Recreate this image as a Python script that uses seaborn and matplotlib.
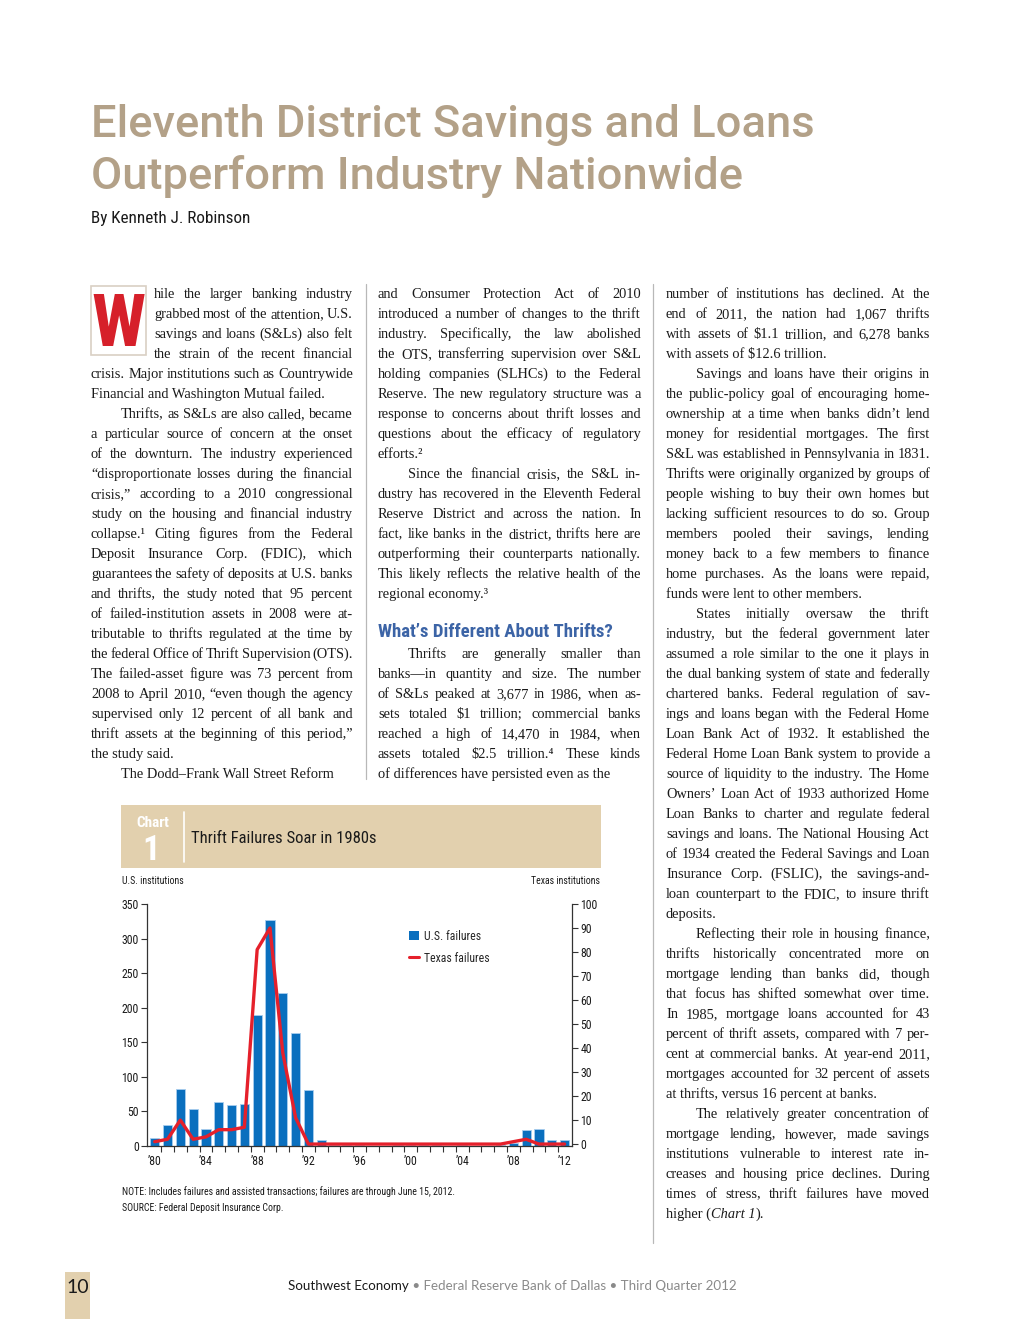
import numpy as np
import pandas as pd
import matplotlib
matplotlib.use("Agg")
import matplotlib.pyplot as plt
from matplotlib import font_manager
from matplotlib.patches import Rectangle, Patch
from matplotlib.lines import Line2D
import seaborn as sns

# ---- chart data ----
years = list(range(1980, 2013))
us_failures = [11, 31, 83, 53, 25, 63, 59, 61, 190, 327, 222, 163, 81, 9,
               2, 2, 1, 0, 0, 1, 1, 1, 1, 0, 1, 0, 0, 1, 5, 23, 25, 9, 8]
texas_failures = [1, 2, 10, 2, 3, 6, 6, 7, 81, 90, 38, 11, 0, 0,
                  0, 0, 0, 0, 0, 0, 0, 0, 0, 0, 0, 0, 0, 0, 1, 2, 0, 0, 0]
year_ticks = [0, 4, 8, 12, 16, 20, 24, 28, 32]
year_labels = ["’80", "’84", "’88", "’92", "’96", "’00", "’04", "’08", "’12"]
us_ticks = [0, 50, 100, 150, 200, 250, 300, 350]
tx_ticks = [0, 10, 20, 30, 40, 50, 60, 70, 80, 90, 100]

# ---- page text ----
headline = ["Eleventh District Savings and Loans", "Outperform Industry Nationwide"]
byline = "By Kenneth J. Robinson"

col1 = [
    (False, ["hile the larger banking industry",
             "grabbed most of the attention, U.S.",
             "savings and loans (S&Ls) also felt",
             "the strain of the recent financial",
             "crisis. Major institutions such as Countrywide",
             "Financial and Washington Mutual failed."]),
    (True, ["Thrifts, as S&Ls are also called, became",
            "a particular source of concern at the onset",
            "of the downturn. The industry experienced",
            "“disproportionate losses during the financial",
            "crisis,” according to a 2010 congressional",
            "study on the housing and financial industry",
            "collapse.¹ Citing figures from the Federal",
            "Deposit Insurance Corp. (FDIC), which",
            "guarantees the safety of deposits at U.S. banks",
            "and thrifts, the study noted that 95 percent",
            "of failed-institution assets in 2008 were at-",
            "tributable to thrifts regulated at the time by",
            "the federal Office of Thrift Supervision (OTS).",
            "The failed-asset figure was 73 percent from",
            "2008 to April 2010, “even though the agency",
            "supervised only 12 percent of all bank and",
            "thrift assets at the beginning of this period,”",
            "the study said."]),
    (True, ["The Dodd–Frank Wall Street Reform"]),
]
col2_top = [
    (False, ["and Consumer Protection Act of 2010",
             "introduced a number of changes to the thrift",
             "industry. Specifically, the law abolished",
             "the OTS, transferring supervision over S&L",
             "holding companies (SLHCs) to the Federal",
             "Reserve. The new regulatory structure was a",
             "response to concerns about thrift losses and",
             "questions about the efficacy of regulatory",
             "efforts.²"]),
    (True, ["Since the financial crisis, the S&L in-",
            "dustry has recovered in the Eleventh Federal",
            "Reserve District and across the nation. In",
            "fact, like banks in the district, thrifts here are",
            "outperforming their counterparts nationally.",
            "This likely reflects the relative health of the",
            "regional economy.³"]),
]
col2_heading = "What’s Different About Thrifts?"
col2_bottom = [
    (True, ["Thrifts are generally smaller than",
            "banks—in quantity and size. The number",
            "of S&Ls peaked at 3,677 in 1986, when as-",
            "sets totaled $1 trillion; commercial banks",
            "reached a high of 14,470 in 1984, when",
            "assets totaled $2.5 trillion.⁴ These kinds",
            "of differences have persisted even as the"]),
]
col3 = [
    (False, ["number of institutions has declined. At the",
             "end of 2011, the nation had 1,067 thrifts",
             "with assets of $1.1 trillion, and 6,278 banks",
             "with assets of $12.6 trillion."]),
    (True, ["Savings and loans have their origins in",
            "the public-policy goal of encouraging home-",
            "ownership at a time when banks didn’t lend",
            "money for residential mortgages. The first",
            "S&L was established in Pennsylvania in 1831.",
            "Thrifts were originally organized by groups of",
            "people wishing to buy their own homes but",
            "lacking sufficient resources to do so. Group",
            "members pooled their savings, lending",
            "money back to a few members to finance",
            "home purchases. As the loans were repaid,",
            "funds were lent to other members."]),
    (True, ["States initially oversaw the thrift",
            "industry, but the federal government later",
            "assumed a role similar to the one it plays in",
            "the dual banking system of state and federally",
            "chartered banks. Federal regulation of sav-",
            "ings and loans began with the Federal Home",
            "Loan Bank Act of 1932. It established the",
            "Federal Home Loan Bank system to provide a",
            "source of liquidity to the industry. The Home",
            "Owners’ Loan Act of 1933 authorized Home",
            "Loan Banks to charter and regulate federal",
            "savings and loans. The National Housing Act",
            "of 1934 created the Federal Savings and Loan",
            "Insurance Corp. (FSLIC), the savings-and-",
            "loan counterpart to the FDIC, to insure thrift",
            "deposits."]),
    (True, ["Reflecting their role in housing finance,",
            "thrifts historically concentrated more on",
            "mortgage lending than banks did, though",
            "that focus has shifted somewhat over time.",
            "In 1985, mortgage loans accounted for 43",
            "percent of thrift assets, compared with 7 per-",
            "cent at commercial banks. At year-end 2011,",
            "mortgages accounted for 32 percent of assets",
            "at thrifts, versus 16 percent at banks."]),
    (True, ["The relatively greater concentration of",
            "mortgage lending, however, made savings",
            "institutions vulnerable to interest rate in-",
            "creases and housing price declines. During",
            "times of stress, thrift failures have moved",
            "higher (*Chart 1*)."]),
]

# ---- colours ----
BLUE = "#0a6fbe"
RED = "#e5202b"
TAN = "#e2d0ae"
HEAD_TAN = "#b3a188"
HEAD_BLUE = "#3c64a6"
INK = "#1a1a1a"


def pick(*names):
    for n in names:
        try:
            font_manager.findfont(font_manager.FontProperties(family=n),
                                  fallback_to_default=False)
            return n
        except ValueError:
            pass
    return "DejaVu Sans"


NARROW = pick("Liberation Sans Narrow", "Roboto Condensed", "Liberation Sans")
SERIF = [pick("Liberation Serif", "DejaVu Serif"), "DejaVu Serif"]
HEAD = pick("Roboto", "Open Sans", "Liberation Sans")
FOOT = pick("Lato", "Open Sans", "Liberation Sans")

sns.set_style("white")
plt.rcParams["font.family"] = [NARROW, "DejaVu Sans"]

W, H = 1020, 1320
fig = plt.figure(figsize=(W / 100, H / 100), dpi=100)
renderer = fig.canvas.get_renderer()


def fx(x):
    return x / W


def fy(y):
    return 1 - y / H


def txt(x, y, s, **kw):
    kw.setdefault("va", "baseline")
    return fig.text(fx(x), fy(y), s, parse_math=False, **kw)


def measure(s, **kw):
    t = fig.text(0, 0, s, parse_math=False, **kw)
    w = t.get_window_extent(renderer).width
    t.remove()
    return w


# ---- headline ----
head_kw = dict(family=HEAD, weight="medium", color=HEAD_TAN)
head_size = 32 * 725 / measure(headline[0], fontsize=32, **head_kw)
txt(91, 137, headline[0], fontsize=head_size, **head_kw)
txt(91, 189, headline[1], fontsize=head_size, **head_kw)
txt(91, 223, byline, fontsize=12.3, color=INK)

# ---- body text ----
all_lines = [ln for col in (col1, col2_top, col2_bottom, col3)
             for _, p in col for ln in p]
widest = max(measure(s.replace("*", ""), fontsize=11, family=SERIF) for s in all_lines)
BODY = 11 * 262 / widest * 1.03
body_kw = dict(fontsize=BODY, family=SERIF, color=INK)


def body_line(x, right, y, s, justify):
    if "*" in s:
        cx = x
        for k, seg in enumerate(s.split("*")):
            if not seg:
                continue
            style = "italic" if k % 2 else "normal"
            txt(cx, y, seg, style=style, **body_kw)
            cx += measure(seg, style=style, **body_kw)
        return
    if not justify:
        txt(x, y, s, **body_kw)
        return
    words = s.split(" ")
    widths = [measure(w, **body_kw) for w in words]
    gap = (right - x - sum(widths)) / (len(words) - 1)
    cx = x
    for w, wd in zip(words, widths):
        txt(cx, y, w, **body_kw)
        cx += wd + gap


def body_block(paras, left, right, y0, dropcap_lines=0):
    y = y0
    n = 0
    for indent, lines in paras:
        for i, s in enumerate(lines):
            x = left + (30 if indent and i == 0 else 0)
            if n < dropcap_lines:
                x = left + 63
            body_line(x, right, y, s, justify=i < len(lines) - 1)
            y += 20
            n += 1
    return y


body_block(col1, 91, 353, 298, dropcap_lines=4)
body_block(col2_top, 378, 641, 298)
txt(378, 637, col2_heading, fontsize=13.5, weight="bold", color=HEAD_BLUE)
body_block(col2_bottom, 378, 641, 658)
body_block(col3, 666, 930, 298)

# drop cap
fig.add_artist(Rectangle((fx(91), fy(355)), 55 / W, 69 / H, transform=fig.transFigure,
                         facecolor="none", edgecolor="#d9d0c4", lw=1.2))
txt(118.5, 346, "W", fontsize=52, weight="bold", color="#d6202a", ha="center")

# column rules
for x, y1 in [(366, 779), (653, 1243)]:
    fig.add_artist(Line2D([fx(x), fx(x)], [fy(284), fy(y1)], transform=fig.transFigure,
                          color="#b8b8b8", lw=0.9))

# ---- chart header band ----
fig.add_artist(Rectangle((fx(121), fy(868)), 480 / W, 63 / H, transform=fig.transFigure,
                         facecolor=TAN, edgecolor="none"))
fig.add_artist(Line2D([fx(184), fx(184)], [fy(812), fy(862)], transform=fig.transFigure,
                      color="white", lw=1.2))
txt(153, 827, "Chart", fontsize=11, weight="bold", color="white", ha="center")
txt(151.5, 860, "1", fontsize=25, weight="bold", color="white", ha="center")
txt(191, 843, "Thrift Failures Soar in 1980s", fontsize=12, color=INK)
txt(122, 884, "U.S. institutions", fontsize=7, color=INK)
txt(600, 884, "Texas institutions", fontsize=7, color=INK, ha="right")

# ---- chart ----
df = pd.DataFrame({"year": years, "us": us_failures, "tx": texas_failures})
df["pos"] = np.arange(len(df))

ax = fig.add_axes([fx(147), fy(1146), (572 - 147) / W, (1146 - 904) / H])
sns.barplot(data=df, x="pos", y="us", color=BLUE, saturation=1, width=0.72,
            edgecolor="#a8cdee", linewidth=0.6, ax=ax)
ax2 = ax.twinx()
sns.lineplot(data=df, x="pos", y="tx", color=RED, lw=2.4, ax=ax2, legend=False)

ax.set_xlim(-0.6, 32.58)
ax.set_ylim(0, 350)
ax2.set_ylim(-0.8, 100)
ax.set_xlabel("")
ax.set_ylabel("")
ax2.set_ylabel("")
ax.set_yticks(us_ticks)
ax2.set_yticks(tx_ticks)
ax.set_xticks(year_ticks)
ax.set_xticklabels(year_labels)
ax.set_xticks(np.arange(0.5, 32, 1), minor=True)

for a in (ax, ax2):
    for side in ("top", "left", "right", "bottom"):
        a.spines[side].set_visible(False)
    a.grid(False)
    a.set_facecolor("none")
ax.spines["left"].set_visible(True)
ax.spines["bottom"].set_visible(True)
ax2.spines["right"].set_visible(True)
for sp in (ax.spines["left"], ax.spines["bottom"], ax2.spines["right"]):
    sp.set_color("#333333")
    sp.set_linewidth(0.9)

ax.tick_params(axis="y", left=True, length=4, width=0.8, color="#333333",
               labelsize=8.5, pad=2, labelcolor=INK)
ax.tick_params(axis="x", which="major", bottom=False, labelsize=8.5, pad=3, labelcolor=INK)
ax.tick_params(axis="x", which="minor", bottom=True, length=4, width=0.8, color="#333333")
ax2.tick_params(axis="y", right=True, length=4, width=0.8, color="#333333",
                labelsize=8.5, pad=2, labelcolor=INK)

handles = [Patch(facecolor=BLUE, edgecolor="none"),
           Line2D([], [], color=RED, lw=2.2)]
ax.legend(handles, ["U.S. failures", "Texas failures"], loc="upper left",
          bbox_to_anchor=(0.592, 0.937), frameon=False, fontsize=8.5,
          handlelength=0.8, handleheight=0.8, handletextpad=0.45, labelspacing=0.75)

# notes
txt(122, 1195, "NOTE: Includes failures and assisted transactions; failures are through June 15, 2012.",
    fontsize=7.1, color=INK)
txt(122, 1211, "SOURCE: Federal Deposit Insurance Corp.", fontsize=7.1, color=INK)

# ---- footer ----
fig.add_artist(Rectangle((fx(65), fy(1319)), 25 / W, 47 / H, transform=fig.transFigure,
                         facecolor=TAN, edgecolor="none"))
txt(77.5, 1293, "10", fontsize=14, family=FOOT, color=INK, ha="center")
foot_kw = dict(fontsize=9.6, family=FOOT)
part1 = "Southwest Economy"
part2 = " • Federal Reserve Bank of Dallas • Third Quarter 2012"
w1 = measure(part1, **foot_kw)
w2 = measure(part2.strip(), **foot_kw) + measure("a a", **foot_kw) - measure("aa", **foot_kw)
x0 = 512 - (w1 + w2) / 2
txt(x0, 1290, part1, color=INK, **foot_kw)
txt(x0 + w1, 1290, part2, color="#8a8a8a", **foot_kw)

fig.savefig("out.png", dpi=100)
